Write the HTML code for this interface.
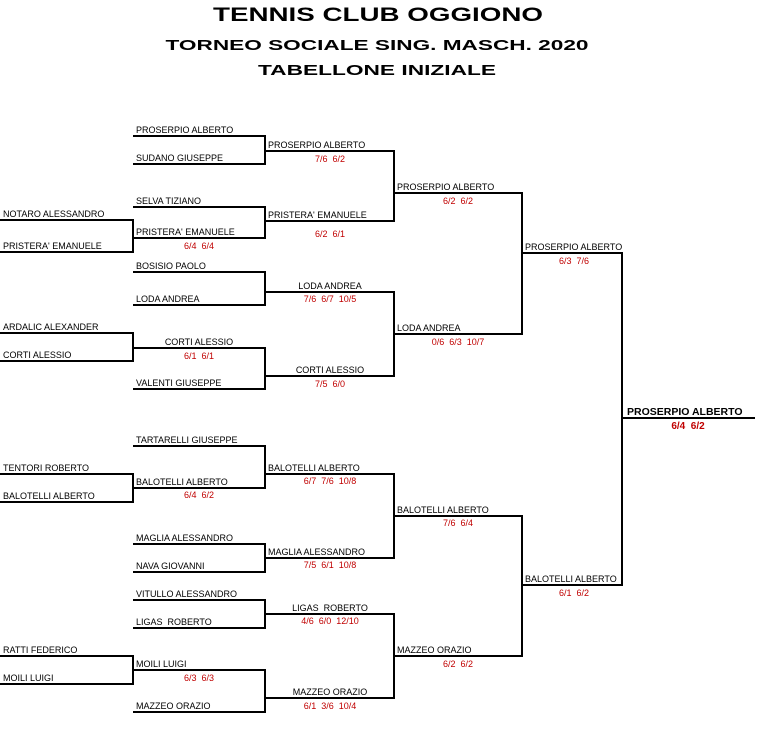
<!DOCTYPE html>
<html><head><meta charset="utf-8"><style>
html,body{margin:0;padding:0;background:#fff;}
svg{display:block;}
text{font-family:"Liberation Sans",sans-serif;white-space:pre;}
.n{font-size:9px;fill:#000;}
.s{font-size:9px;fill:#c00000;text-anchor:middle;}
.t{font-weight:bold;fill:#000;text-anchor:middle;}
</style></head><body>
<svg width="762" height="730" viewBox="0 0 762 730" xmlns="http://www.w3.org/2000/svg">
<text class="t" x="378" y="21" font-size="19" textLength="330" lengthAdjust="spacingAndGlyphs">TENNIS CLUB OGGIONO</text>
<text class="t" x="377" y="50" font-size="15" textLength="423" lengthAdjust="spacingAndGlyphs">TORNEO SOCIALE SING. MASCH. 2020</text>
<text class="t" x="377" y="75" font-size="15" textLength="238" lengthAdjust="spacingAndGlyphs">TABELLONE INIZIALE</text>
<g stroke="#000" stroke-width="2" fill="none">
<path d="M0 220H133M0 252H133M133 219V253M0 333H133M0 361H133M133 332V362M0 474H133M0 502H133M133 473V503M0 656H133M0 684H133M133 655V685"/>
<path d="M133 136H265M133 164H265M265 135V165M133 207H265M133 238H265M265 206V239M133 272H265M133 305H265M265 271V306M133 348H265M133 389H265M265 347V390M133 446H265M133 488H265M265 445V489M133 544H265M133 572H265M265 543V573M133 600H265M133 628H265M265 599V629M133 670H265M133 712H265M265 669V713"/>
<path d="M265 151H394M265 221H394M394 150V222M265 292H394M265 376H394M394 291V377M265 474H394M265 558H394M394 473V559M265 614H394M265 698H394M394 613V699"/>
<path d="M394 193H522M394 334H522M522 192V335M394 516H522M394 656H522M522 515V657"/>
<path d="M522 253H622M522 585H622M622 252V586M622 418H755"/>
</g>
<g class="n">
<text x="3" y="217">NOTARO ALESSANDRO</text>
<text x="3" y="249">PRISTERA' EMANUELE</text>
<text x="3" y="330">ARDALIC ALEXANDER</text>
<text x="3" y="358">CORTI ALESSIO</text>
<text x="3" y="471">TENTORI ROBERTO</text>
<text x="3" y="499">BALOTELLI ALBERTO</text>
<text x="3" y="653">RATTI FEDERICO</text>
<text x="3" y="681">MOILI LUIGI</text>
<text x="136" y="133">PROSERPIO ALBERTO</text>
<text x="136" y="161">SUDANO GIUSEPPE</text>
<text x="136" y="204">SELVA TIZIANO</text>
<text x="136" y="235">PRISTERA' EMANUELE</text>
<text x="136" y="269">BOSISIO PAOLO</text>
<text x="136" y="302">LODA ANDREA</text>
<text x="199" y="345" text-anchor="middle">CORTI ALESSIO</text>
<text x="136" y="386">VALENTI GIUSEPPE</text>
<text x="136" y="443">TARTARELLI GIUSEPPE</text>
<text x="136" y="485">BALOTELLI ALBERTO</text>
<text x="136" y="541">MAGLIA ALESSANDRO</text>
<text x="136" y="569">NAVA GIOVANNI</text>
<text x="136" y="597">VITULLO ALESSANDRO</text>
<text x="136" y="625">LIGAS  ROBERTO</text>
<text x="136" y="667">MOILI LUIGI</text>
<text x="136" y="709">MAZZEO ORAZIO</text>
<text x="268" y="148">PROSERPIO ALBERTO</text>
<text x="268" y="218">PRISTERA' EMANUELE</text>
<text x="330" y="289" text-anchor="middle">LODA ANDREA</text>
<text x="330" y="373" text-anchor="middle">CORTI ALESSIO</text>
<text x="268" y="471">BALOTELLI ALBERTO</text>
<text x="268" y="555">MAGLIA ALESSANDRO</text>
<text x="330" y="611" text-anchor="middle">LIGAS  ROBERTO</text>
<text x="330" y="695" text-anchor="middle">MAZZEO ORAZIO</text>
<text x="397" y="190">PROSERPIO ALBERTO</text>
<text x="397" y="331">LODA ANDREA</text>
<text x="397" y="513">BALOTELLI ALBERTO</text>
<text x="397" y="653">MAZZEO ORAZIO</text>
<text x="525" y="250">PROSERPIO ALBERTO</text>
<text x="525" y="582">BALOTELLI ALBERTO</text>
<text x="627" y="415" font-weight="bold" font-size="10.5">PROSERPIO ALBERTO</text>
</g>
<g class="s">
<text x="199" y="249">6/4  6/4</text>
<text x="199" y="359">6/1  6/1</text>
<text x="199" y="498">6/4  6/2</text>
<text x="199" y="681">6/3  6/3</text>
<text x="330" y="162">7/6  6/2</text>
<text x="330" y="237">6/2  6/1</text>
<text x="330" y="302">7/6  6/7  10/5</text>
<text x="330" y="387">7/5  6/0</text>
<text x="330" y="484">6/7  7/6  10/8</text>
<text x="330" y="568">7/5  6/1  10/8</text>
<text x="330" y="624">4/6  6/0  12/10</text>
<text x="330" y="709">6/1  3/6  10/4</text>
<text x="458" y="204">6/2  6/2</text>
<text x="458" y="345">0/6  6/3  10/7</text>
<text x="458" y="526">7/6  6/4</text>
<text x="458" y="667">6/2  6/2</text>
<text x="574" y="264">6/3  7/6</text>
<text x="574" y="596">6/1  6/2</text>
<text x="688" y="429" font-weight="bold" font-size="10">6/4  6/2</text>
</g>
</svg>
</body></html>
